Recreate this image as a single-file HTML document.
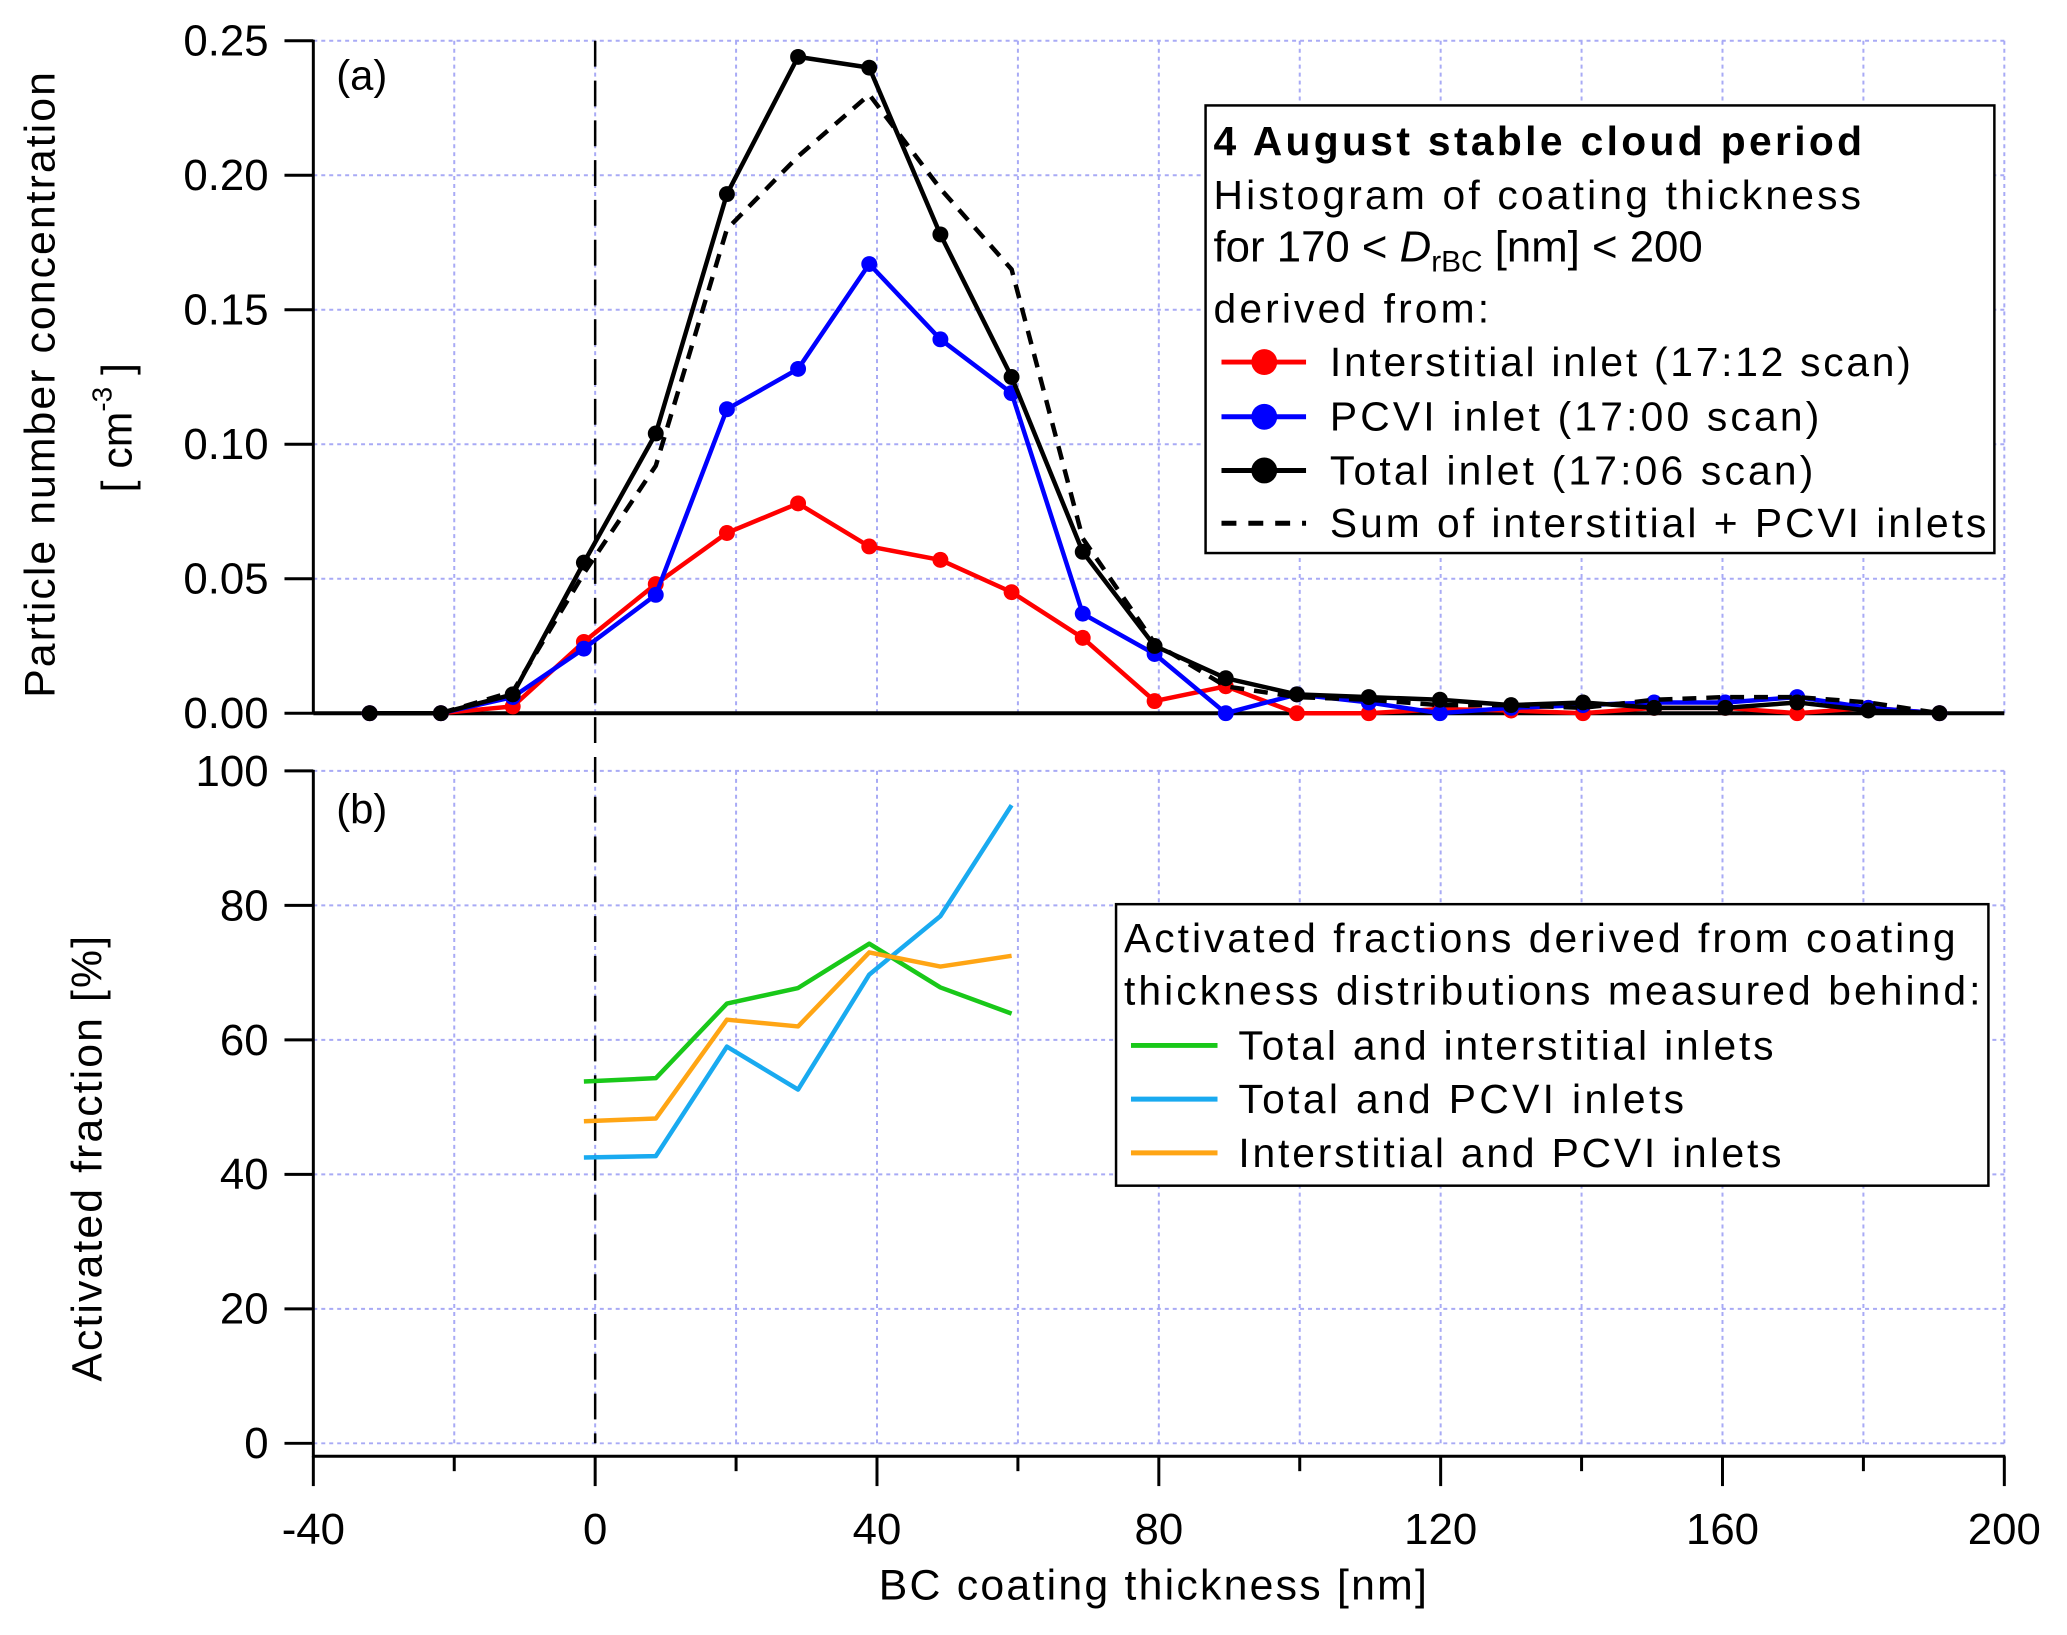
<!DOCTYPE html>
<html><head><meta charset="utf-8"><style>
html,body{margin:0;padding:0;background:#fff}
svg{display:block;font-family:"Liberation Sans",Arial,sans-serif}
</style></head><body>
<svg id="chart" width="2067" height="1635" viewBox="0 0 2067 1635">
<g transform="scale(0.9947)">
<g id="grid"></g>
<g id="axes"></g>
<g id="series"></g>
<text x="338" y="90" font-size="42">(a)</text>
<text x="338" y="828" font-size="42">(b)</text>
<text transform="translate(55,387) rotate(-90)" text-anchor="middle" font-size="43" textLength="629">Particle number concentration</text>
<text transform="translate(132,430) rotate(-90)" text-anchor="middle" font-size="43">[ cm<tspan font-size="28" dy="-20">-3</tspan><tspan dy="20"> ]</tspan></text>
<text transform="translate(102,1165) rotate(-90)" text-anchor="middle" font-size="43" textLength="448">Activated fraction [%]</text>
<text x="1159" y="1608" text-anchor="middle" font-size="43" textLength="551">BC coating thickness [nm]</text>
<g>
<rect x="1212" y="106" width="793" height="450" fill="#fff" stroke="#000" stroke-width="2.5"/>
<text x="1220" y="156" font-size="41" font-weight="bold" textLength="652">4 August stable cloud period</text>
<text x="1220" y="210" font-size="41" textLength="651">Histogram of coating thickness</text>
<text x="1220" y="263" font-size="44">for 170 &lt; <tspan font-style="italic">D</tspan><tspan font-size="30" dy="10">rBC</tspan><tspan dy="-10"> [nm] &lt; 200</tspan></text>
<text x="1220" y="324" font-size="41" textLength="277">derived from:</text>
<g><line x1="1228" y1="364" x2="1313" y2="364" stroke="#f00" stroke-width="5"/><circle cx="1271" cy="364" r="13" fill="#f00"/><text x="1337" y="378" font-size="41" textLength="584">Interstitial inlet (17:12 scan)</text></g>
<g><line x1="1228" y1="419" x2="1313" y2="419" stroke="#00f" stroke-width="5"/><circle cx="1271" cy="419" r="13" fill="#00f"/><text x="1337" y="433" font-size="41" textLength="492">PCVI inlet (17:00 scan)</text></g>
<g><line x1="1228" y1="473" x2="1313" y2="473" stroke="#000" stroke-width="5"/><circle cx="1271" cy="473" r="13" fill="#000"/><text x="1337" y="487" font-size="41" textLength="486">Total inlet (17:06 scan)</text></g>
<g><line x1="1228" y1="526" x2="1313" y2="526" stroke="#000" stroke-width="5" stroke-dasharray="15,12"/><text x="1337" y="540" font-size="41" textLength="660">Sum of interstitial + PCVI inlets</text></g>
</g>
<g>
<rect x="1122" y="909" width="877" height="283" fill="#fff" stroke="#000" stroke-width="2.5"/>
<text x="1130" y="957" font-size="41" textLength="836">Activated fractions derived from coating</text>
<text x="1130" y="1010" font-size="41" textLength="861">thickness distributions measured behind:</text>
<g><line x1="1137" y1="1051" x2="1224" y2="1051" stroke="#19c819" stroke-width="5"/><text x="1245" y="1065" font-size="41" textLength="538">Total and interstitial inlets</text></g>
<g><line x1="1137" y1="1105" x2="1224" y2="1105" stroke="#19aaf0" stroke-width="5"/><text x="1245" y="1119" font-size="41" textLength="448">Total and PCVI inlets</text></g>
<g><line x1="1137" y1="1159" x2="1224" y2="1159" stroke="#ffa514" stroke-width="5"/><text x="1245" y="1173" font-size="41" textLength="546">Interstitial and PCVI inlets</text></g>
</g>
</g>
</svg>
<script>
const xs = [-32,-21.9,-11.7,-1.6,8.6,18.7,28.8,38.9,49.0,59.1,69.2,79.4,89.5,99.6,109.8,119.9,130.0,140.2,150.3,160.4,170.6,180.7,190.8];
const interstitial = [0,0,0.0025,0.0265,0.048,0.067,0.078,0.062,0.057,0.045,0.028,0.0045,0.01,0,0,0.0015,0.001,0,0.002,0.002,0,0.002,0];
const pcvi = [0,0,0.006,0.024,0.044,0.113,0.128,0.167,0.139,0.119,0.037,0.022,0,0.007,0.004,0,0.002,0.003,0.004,0.004,0.006,0.002,0];
const total = [0,0,0.007,0.056,0.104,0.193,0.244,0.240,0.178,0.125,0.060,0.025,0.013,0.007,0.006,0.005,0.003,0.004,0.002,0.002,0.004,0.001,0];
const sumIP = [0,0,0.008,0.052,0.092,0.180,0.207,0.230,0.195,0.165,0.065,0.026,0.010,0.006,0.005,0.003,0.003,0.002,0.005,0.006,0.006,0.004,0];
const xsB = [-1.6,8.6,18.7,28.8,38.9,49.0,59.1];
const afTotInt = [53.8,54.3,65.4,67.7,74.3,67.8,63.9];
const afTotPcvi = [42.5,42.7,59.0,52.6,69.7,78.4,94.9];
const afIntPcvi = [47.9,48.3,63.0,62.0,73.0,70.9,72.5];
const xTicks = [-40,0,40,80,120,160,200];
const xGrid = [-40,-20,0,20,40,60,80,100,120,140,160,180,200];
const yTicksA = [0,0.05,0.10,0.15,0.20,0.25];
const yTicksB = [0,20,40,60,80,100];

const NS='http://www.w3.org/2000/svg';
const X0=315,X1=2015;
const sx=v=>X0+(v+40)/240*(X1-X0);
const syA=v=>717-v/0.25*(717-41);
const syB=v=>1451-v/100*(1451-775);
function mk(parent,tag,attrs){const e=document.createElementNS(NS,tag);for(const k in attrs)e.setAttribute(k,attrs[k]);document.getElementById(parent).appendChild(e);return e;}
const GC='#a8aaf5';
xGrid.forEach(v=>{
  let g1=mk('grid','line',{x1:sx(v),x2:sx(v),y1:41,y2:717,stroke:GC,'stroke-width':2,'stroke-dasharray':'4,4'});
  
  
  let g2=mk('grid','line',{x1:sx(v),x2:sx(v),y1:775,y2:1451,stroke:GC,'stroke-width':2,'stroke-dasharray':'4,4'});
  
  
});
yTicksA.forEach(v=>{
  let g=mk('grid','line',{x1:X0,x2:X1,y1:syA(v),y2:syA(v),stroke:GC,'stroke-width':2,'stroke-dasharray':'4,4'});
  
  
  let t=mk('axes','line',{x1:X0-29,x2:X0,y1:syA(v),y2:syA(v),stroke:'#000','stroke-width':3});
  
  
  let l=mk('axes','text',{x:X0-45,y:syA(v)+15,'text-anchor':'end','font-size':44});
  l.textContent=v.toFixed(2);
  
  
});
yTicksB.forEach(v=>{
  let g=mk('grid','line',{x1:X0,x2:X1,y1:syB(v),y2:syB(v),stroke:GC,'stroke-width':2,'stroke-dasharray':'4,4'});
  
  
  let t=mk('axes','line',{x1:X0-29,x2:X0,y1:syB(v),y2:syB(v),stroke:'#000','stroke-width':3});
  
  
  let l=mk('axes','text',{x:X0-45,y:syB(v)+15,'text-anchor':'end','font-size':44});
  l.textContent=String(v);
  
  
});
let ya=mk('axes','line',{x1:X0,x2:X0,y1:40,y2:718,stroke:'#000','stroke-width':3});


let yb=mk('axes','line',{x1:X0,x2:X0,y1:774,y2:1465,stroke:'#000','stroke-width':3});


let xa=mk('axes','line',{x1:X0-1,x2:X1+1,y1:1464,y2:1464,stroke:'#000','stroke-width':3});


xGrid.forEach(v=>{
  const major=xTicks.includes(v);
  let t=mk('axes','line',{x1:sx(v),x2:sx(v),y1:1464,y2:major?1494:1479,stroke:'#000','stroke-width':3});
  
  
});
xTicks.forEach(v=>{
  let l=mk('axes','text',{x:sx(v),y:1552,'text-anchor':'middle','font-size':44});
  l.textContent=String(v);
  
  
});
let zl=mk('series','line',{x1:sx(0),x2:sx(0),y1:41,y2:1451,stroke:'#000','stroke-width':2.5,'stroke-dasharray':'26,14'});


let bl=mk('series','line',{x1:X0,x2:X1,y1:syA(0),y2:syA(0),stroke:'#000','stroke-width':4});


function pts(xv,yv,f){return xv.map((x,i)=>sx(x).toFixed(1)+','+f(yv[i]).toFixed(1)).join(' ');}
function series(name,xv,yv,f,color,dash,markers){
  let p=mk('series','polyline',{points:pts(xv,yv,f),fill:'none',stroke:color,'stroke-width':4.5,'stroke-linejoin':'round'});
  if(dash)p.setAttribute('stroke-dasharray',dash);
  
  
  if(markers){xv.forEach((x,i)=>{
    let c=mk('series','circle',{cx:sx(x),cy:f(yv[i]),r:8,fill:color});
    
    
  });}
}
series('interstitial',xs,interstitial,syA,'#f00',null,true);
series('pcvi',xs,pcvi,syA,'#00f',null,true);
series('sum-interstitial-pcvi',xs,sumIP,syA,'#000','14,10',false);
series('total',xs,total,syA,'#000',null,true);
series('af-total-interstitial',xsB,afTotInt,syB,'#19c819',null,false);
series('af-total-pcvi',xsB,afTotPcvi,syB,'#19aaf0',null,false);
series('af-interstitial-pcvi',xsB,afIntPcvi,syB,'#ffa514',null,false);
</script>
</body></html>
